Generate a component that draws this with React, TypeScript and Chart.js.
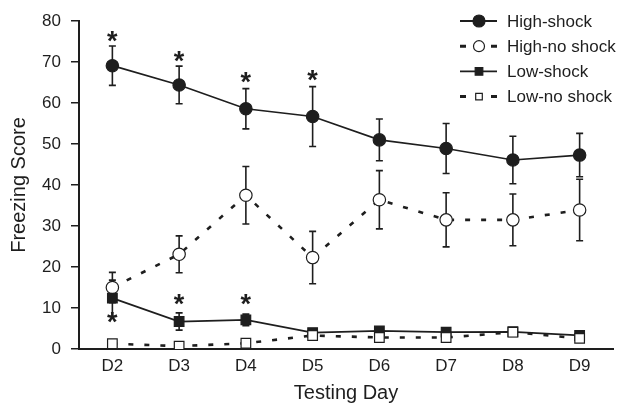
import React, { useEffect, useRef } from "react";
import { Chart, registerables } from "chart.js";

Chart.register(...registerables);

// ---- data ----
const days = ["D2", "D3", "D4", "D5", "D6", "D7", "D8", "D9"];
const highShock = [69.1, 64.4, 58.6, 56.7, 51.0, 48.9, 46.1, 47.3];
const highShockErr = [4.8, 4.6, 4.9, 7.3, 5.1, 6.1, 5.8, 5.3];
const highNoShock = [15.0, 23.1, 37.5, 22.3, 36.4, 31.5, 31.5, 33.9];
const highNoShockErr = [3.7, 4.5, 7.0, 6.4, 7.1, 6.6, 6.3, 7.5];
const lowShock = [12.4, 6.7, 7.1, 4.0, 4.4, 4.1, 4.2, 3.3];
const lowShockErr = [4.4, 2.1, 1.4, 0.7, 0.9, 0.8, 0.8, 0.6];
const lowNoShock = [1.3, 0.7, 1.4, 3.3, 2.8, 2.8, 4.1, 2.6];
const lowNoShockErr = [0.4, 0.3, 0.5, 0.6, 0.5, 0.5, 0.8, 0.5];
const highShockStars = [76.2, 71.3, 66.3, 66.6, null, null, null, null];
const lowShockStars = [7.7, 12.1, 12.1, null, null, null, null, null];
const seriesNames = ["High-shock", "High-no shock", "Low-shock", "Low-no shock"];
const yMin = 0;
const yMax = 80;
const yStep = 10;
const xTitle = "Testing Day";
const yTitle = "Freezing Score";

const FONT = "'Liberation Sans', Arial, Helvetica, sans-serif";
const INK = "#1e1e1e";

const errors = [highShockErr, highNoShockErr, lowShockErr, lowNoShockErr];
const stars = [highShockStars, lowShockStars];

const errorBarPlugin = {
  id: "errorBars",
  beforeDatasetsDraw(chart: any) {
    const ctx = chart.ctx;
    const y = chart.scales.y;
    ctx.save();
    ctx.strokeStyle = INK;
    ctx.lineWidth = 1.6;
    chart.data.datasets.forEach((ds: any, i: number) => {
      const meta = chart.getDatasetMeta(i);
      const err = errors[i];
      meta.data.forEach((pt: any, j: number) => {
        const v = ds.data[j];
        const e = err[j];
        const yt = y.getPixelForValue(v + e);
        const yb = y.getPixelForValue(v - e);
        const x = pt.x;
        ctx.beginPath();
        ctx.moveTo(x, yt);
        ctx.lineTo(x, yb);
        ctx.moveTo(x - 3.5, yt);
        ctx.lineTo(x + 3.5, yt);
        ctx.moveTo(x - 3.5, yb);
        ctx.lineTo(x + 3.5, yb);
        ctx.stroke();
      });
    });
    ctx.restore();
  },
};

const starPlugin = {
  id: "stars",
  afterDatasetsDraw(chart: any) {
    const ctx = chart.ctx;
    const xs = chart.scales.x;
    const ys = chart.scales.y;
    ctx.save();
    ctx.fillStyle = INK;
    ctx.font = `bold 27px ${FONT}`;
    ctx.textAlign = "center";
    ctx.textBaseline = "alphabetic";
    const m = ctx.measureText("*");
    const off = (m.actualBoundingBoxAscent - m.actualBoundingBoxDescent) / 2;
    stars.forEach((arr) => {
      arr.forEach((v, j) => {
        if (v === null) return;
        const x = xs.getPixelForValue(j);
        const yy = ys.getPixelForValue(v);
        ctx.fillText("*", x, yy + off);
      });
    });
    ctx.restore();
  },
};

const legendPlugin = {
  id: "customLegend",
  afterDraw(chart: any) {
    const ctx = chart.ctx;
    const x0 = 460;
    const x1 = 497;
    const xm = 479;
    const tx = 507;
    const top = 21;
    const gap = 25.2;
    ctx.save();
    chart.data.datasets.forEach((ds: any, i: number) => {
      const yy = top + i * gap;
      ctx.strokeStyle = INK;
      if (ds.borderDash && ds.borderDash.length) {
        ctx.lineWidth = 3;
        ctx.beginPath();
        ctx.moveTo(x0, yy);
        ctx.lineTo(x0 + 6, yy);
        ctx.moveTo(x1 - 6, yy);
        ctx.lineTo(x1, yy);
        ctx.stroke();
      } else {
        ctx.lineWidth = 1.8;
        ctx.beginPath();
        ctx.moveTo(x0, yy);
        ctx.lineTo(x1, yy);
        ctx.stroke();
      }
      ctx.lineWidth = 1.2;
      ctx.fillStyle = ds.pointBackgroundColor;
      ctx.beginPath();
      if (ds.pointStyle === "circle") {
        ctx.arc(xm, yy, ds.pointBackgroundColor === "#fff" ? 5.5 : 6, 0, Math.PI * 2);
      } else {
        const s = ds.pointBackgroundColor === "#fff" ? 3.3 : 3.8;
        ctx.rect(xm - s, yy - s, 2 * s, 2 * s);
      }
      ctx.fill();
      ctx.stroke();
      ctx.fillStyle = INK;
      ctx.font = `17px ${FONT}`;
      ctx.textAlign = "left";
      ctx.textBaseline = "middle";
      ctx.fillText(seriesNames[i], tx, yy + 1);
    });
    ctx.restore();
  },
};

export default function App() {
  const ref = useRef<HTMLCanvasElement | null>(null);

  useEffect(() => {
    if (!ref.current) return;
    const mk = (
      label: string,
      data: number[],
      filled: boolean,
      style: string,
      dashed: boolean,
      order: number
    ) => ({
      label,
      data,
      order,
      borderColor: INK,
      borderWidth: dashed ? 2.6 : 1.7,
      borderDash: dashed ? [5, 11] : [],
      pointStyle: style,
      pointRadius: style === "circle" ? 6.2 : 6.8,
      pointBackgroundColor: filled ? INK : "#fff",
      pointBorderColor: INK,
      pointBorderWidth: 1.2,
      tension: 0,
      fill: false,
    });
    const chart = new Chart(ref.current, {
      type: "line",
      data: {
        labels: days,
        datasets: [
          mk(seriesNames[0], highShock, true, "circle", false, 3),
          mk(seriesNames[1], highNoShock, false, "circle", true, 2),
          mk(seriesNames[2], lowShock, true, "rect", false, 1),
          mk(seriesNames[3], lowNoShock, false, "rect", true, 0),
        ] as any,
      },
      options: {
        animation: false,
        responsive: false,
        devicePixelRatio: 1,
        layout: { padding: { top: 21, right: 11, left: 0, bottom: 0 } },
        plugins: {
          legend: { display: false },
          tooltip: { enabled: false },
        },
        scales: {
          x: {
            type: "category",
            offset: true,
            grid: { display: true, drawOnChartArea: false, drawTicks: false },
            border: { display: true, color: INK, width: 2 },
            ticks: { color: INK, font: { family: FONT, size: 17 }, padding: 7 },
            title: {
              display: true,
              text: xTitle,
              color: INK,
              font: { family: FONT, size: 20 },
              padding: { top: 1, bottom: 1 },
            },
            afterFit(scale: any) {
              scale.height = 57;
            },
          },
          y: {
            min: yMin,
            max: yMax,
            ticks: {
              stepSize: yStep,
              color: INK,
              font: { family: FONT, size: 17 },
              padding: 10,
            },
            grid: {
              display: true,
              drawOnChartArea: false,
              drawTicks: true,
              tickLength: 8,
              tickColor: INK,
              lineWidth: 1.5,
            },
            border: { display: true, color: INK, width: 2 },
            title: {
              display: true,
              text: yTitle,
              color: INK,
              font: { family: FONT, size: 20 },
              padding: { top: 7, bottom: 0 },
            },
            afterFit(scale: any) {
              scale.width = 79;
            },
          },
        },
      },
      plugins: [errorBarPlugin, starPlugin, legendPlugin],
    } as any);
    return () => chart.destroy();
  }, []);

  return (
    <div style={{ position: "fixed", left: 0, top: 0, width: 624, height: 406, background: "#fff" }}>
      <canvas ref={ref} width={624} height={406} style={{ display: "block", width: 624, height: 406 }} />
    </div>
  );
}
